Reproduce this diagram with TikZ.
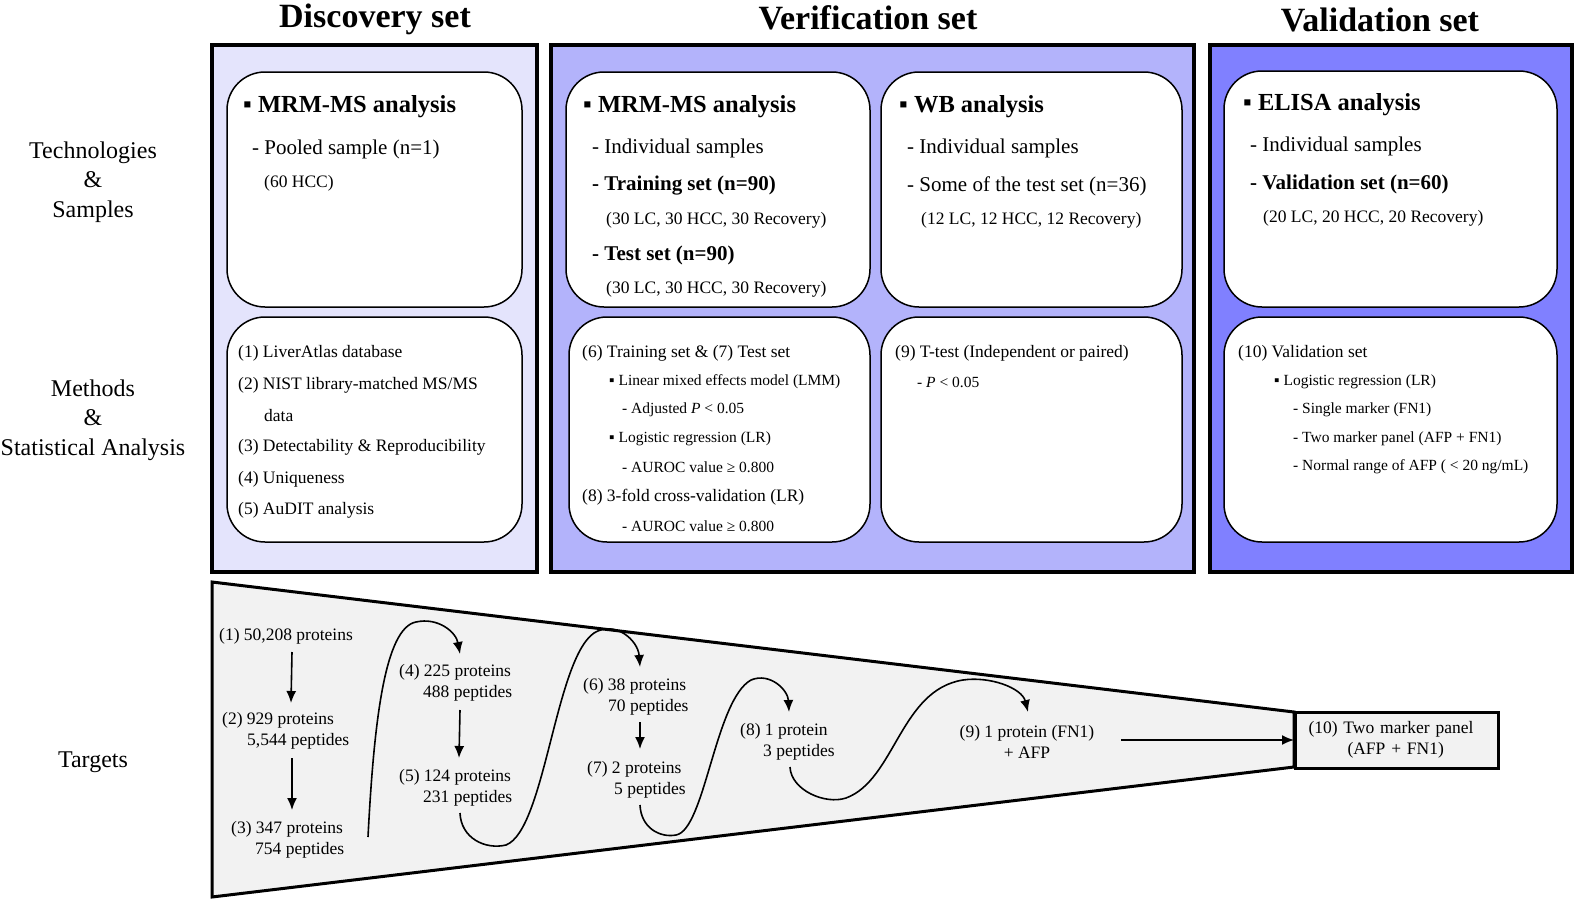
\documentclass[tikz,border=0pt]{standalone}
\usepackage{fontspec}
\setmainfont{Liberation Serif}
\usetikzlibrary{arrows.meta}
\definecolor{discfill}{HTML}{E4E4FC}
\definecolor{verfill}{HTML}{B3B3FB}
\definecolor{valfill}{HTML}{8080FF}
\definecolor{funfill}{HTML}{F2F2F2}
\tikzset{
 outerbox/.style={draw=black, line width=4pt},
 innerbox/.style={draw=black, fill=white, line width=1.5pt, rounded corners=38pt},
 ttl/.style={inner sep=0pt, font=\fontsize{34}{40}\selectfont\bfseries},
 sidelbl/.style={inner sep=0pt, align=center, font=\fontsize{24}{29.5}\selectfont},
 txhead/.style={anchor=west, inner sep=0pt, yshift=-2pt, font=\fontsize{24.5}{28}\selectfont\bfseries},
 txmid/.style={anchor=west, inner sep=0pt, yshift=-2pt, font=\fontsize{21}{25}\selectfont},
 txmidb/.style={anchor=west, inner sep=0pt, yshift=-2pt, font=\fontsize{21}{25}\selectfont\bfseries},
 txsml/.style={anchor=west, inner sep=0pt, yshift=-2pt, font=\fontsize{17.5}{21}\selectfont},
 txtiny/.style={anchor=west, inner sep=0pt, yshift=-2pt, font=\fontsize{15.5}{19}\selectfont},
 txfun/.style={anchor=west, inner sep=0pt, yshift=-2pt, align=left, font=\fontsize{17.5}{21}\selectfont},
 arr/.style={-{Latex[length=12pt,width=10pt]}, line width=1.6pt},
}
\begin{document}
\begin{tikzpicture}[x=1pt,y=-1pt]
\useasboundingbox (0,0) rectangle (1575,900);

% titles
\node[ttl] (t1) at (375,19) {Discovery set};
\node[ttl] (t2) at (868,18) {Verification set};
\node[ttl] (t3) at (1380,20) {Validation set};

% side labels
\node[sidelbl] (s1) at (93,182) {Technologies\\\&\\Samples};
\node[sidelbl] (s2) at (93,420) {Methods\\\&\\Statistical Analysis};
\node[sidelbl] (s3) at (93,762) {Targets};

% outer panels
\draw[outerbox, fill=discfill] (212,45) rectangle (537,572);
\draw[outerbox, fill=verfill] (551,45) rectangle (1194,572);
\draw[outerbox, fill=valfill] (1210,45) rectangle (1572,572);

% inner boxes
\draw[innerbox] (227,72) rectangle (522,307);
\draw[innerbox] (227,317) rectangle (522,542);
\draw[innerbox] (566,72) rectangle (870,307);
\draw[innerbox] (881,72) rectangle (1182,307);
\draw[innerbox] (569,317) rectangle (870,542);
\draw[innerbox] (881,317) rectangle (1182,542);
\draw[innerbox] (1224,71) rectangle (1557,307);
\draw[innerbox] (1224,317) rectangle (1557,542);

% discovery texts
\node[txhead] (d1) at (243,105) {▪ MRM-MS analysis};
\node[txmid] (d2) at (252,147) {- Pooled sample (n=1)};
\node[txsml] (d3) at (264,181) {(60 HCC)};
\node[txsml] (d4) at (238,351) {(1) LiverAtlas database};
\node[txsml] (d5) at (238,383) {(2) NIST library-matched MS/MS};
\node[txsml] (d6) at (264,414) {data};
\node[txsml] (d7) at (238,445) {(3) Detectability \& Reproducibility};
\node[txsml] (d8) at (238,477) {(4) Uniqueness};
\node[txsml] (d9) at (238,508) {(5) AuDIT analysis};

% verification texts
\node[txhead] (v1) at (583,105) {▪ MRM-MS analysis};
\node[txmid] (v2) at (592,146) {- Individual samples};
\node[txmidb] (v3) at (592,184) {- Training set (n=90)};
\node[txsml] (v4) at (606,218) {(30 LC, 30 HCC, 30 Recovery)};
\node[txmidb] (v5) at (592,253) {- Test set (n=90)};
\node[txsml] (v6) at (606,287) {(30 LC, 30 HCC, 30 Recovery)};
\node[txhead] (w1) at (899,105) {▪ WB analysis};
\node[txmid] (w2) at (907,146) {- Individual samples};
\node[txmid] (w3) at (907,184) {- Some of the test set (n=36)};
\node[txsml] (w4) at (921,218) {(12 LC, 12 HCC, 12 Recovery)};
\node[txsml] (v7) at (582,351) {(6) Training set \& (7) Test set};
\node[txtiny] (v8) at (609,380) {▪ Linear mixed effects model (LMM)};
\node[txtiny] (v9) at (622,408) {- Adjusted \textit{P} < 0.05};
\node[txtiny] (v10) at (609,437) {▪ Logistic regression (LR)};
\node[txtiny] (v11) at (622,465) {- AUROC value ≥ 0.800};
\node[txsml] (v12) at (582,495) {(8) 3-fold cross-validation (LR)};
\node[txtiny] (v13) at (622,524) {- AUROC value ≥ 0.800};
\node[txsml] (w5) at (895,351) {(9) T-test (Independent or paired)};
\node[txtiny] (w6) at (917,380) {- \textit{P} < 0.05};

% validation texts
\node[txhead] (e1) at (1243,103) {▪ ELISA analysis};
\node[txmid] (e2) at (1250,144) {- Individual samples};
\node[txmidb] (e3) at (1250,182) {- Validation set (n=60)};
\node[txsml] (e4) at (1263,216) {(20 LC, 20 HCC, 20 Recovery)};
\node[txsml] (e5) at (1238,351) {(10) Validation set};
\node[txtiny] (e6) at (1274,380) {▪ Logistic regression (LR)};
\node[txtiny] (e7) at (1293,408) {- Single marker (FN1)};
\node[txtiny] (e8) at (1293,437) {- Two marker panel (AFP + FN1)};
\node[txtiny] (e9) at (1293,465) {- Normal range of AFP ( < 20 ng/mL)};

% funnel
\draw[line width=3pt, fill=funfill, line join=miter] (212,582) -- (1294,712) -- (1294,767) -- (212,897) -- cycle;
\node[draw, line width=3pt, fill=funfill, minimum width=203pt, minimum height=56pt,
      text width=177pt, inner xsep=13pt, inner ysep=0pt, align=left, anchor=west,
      font=\fontsize{17.5}{21}\selectfont] (b10) at (1294,740)
      {(10) Two marker panel\\\hspace*{39pt}(AFP + FN1)};

\node[txfun] (n1) at (219,634) {(1) 50,208 proteins};
\node[txfun] (n2) at (222,729) {(2) 929 proteins\\\hspace*{25pt}5,544 peptides};
\node[txfun] (n3) at (231,838) {(3) 347 proteins\\\hspace*{24pt}754 peptides};
\node[txfun] (n4) at (399,681) {(4) 225 proteins\\\hspace*{24pt}488 peptides};
\node[txfun] (n5) at (399,786) {(5) 124 proteins\\\hspace*{24pt}231 peptides};
\node[txfun] (n6) at (583,695) {(6) 38 proteins\\\hspace*{25pt}70 peptides};
\node[txfun] (n7) at (587,778) {(7) 2 proteins\\\hspace*{27pt}5 peptides};
\node[txfun] (n8) at (740,740) {(8) 1 protein\\\hspace*{23pt}3 peptides};
\node[inner sep=0pt, yshift=-2pt, align=center, font=\fontsize{17.5}{21}\selectfont] (n9) at (1027,740) {(9) 1 protein (FN1)\\+ AFP};

% connector end points
\coordinate (a1s) at (292,652); \coordinate (a1e) at (291,703);
\coordinate (a2s) at (292,758); \coordinate (a2e) at (292,810);
\coordinate (a3s) at (460,710); \coordinate (a3e) at (459,758);
\coordinate (a4s) at (640,722); \coordinate (a4e) at (640,749);
\coordinate (a9s) at (1121,740);
\coordinate (c34s) at (368,837); \coordinate (c34e) at (460,654);
\coordinate (c56s) at (460,813); \coordinate (c56e) at (640,667);
\coordinate (c78s) at (640,805); \coordinate (c78e) at (789,712);
\coordinate (c89s) at (790,767); \coordinate (c89e) at (1028,712);

\draw[arr] (a1s) -- (a1e);
\draw[arr] (a2s) -- (a2e);
\draw[arr] (a3s) -- (a3e);
\draw[arr] (a4s) -- (a4e);
\draw[arr] (a9s) -- (b10.west);
\draw[arr] (c34s) .. controls (374,720) and (385,628) .. (416,622)
               .. controls (438,617) and (456,632) .. (c34e);
\draw[arr] (c56s) .. controls (461,838) and (485,850) .. (506,845)
               .. controls (545,830) and (555,660) .. (594,633)
               .. controls (615,620) and (638,640) .. (c56e);
\draw[arr] (c78s) .. controls (641,828) and (660,838) .. (676,835)
               .. controls (705,830) and (715,700) .. (751,680)
               .. controls (770,672) and (788,690) .. (c78e);
\draw[arr] (c89s) .. controls (791,790) and (825,805) .. (846,798)
               .. controls (895,780) and (900,690) .. (963,680)
               .. controls (990,676) and (1022,688) .. (c89e);
\end{tikzpicture}
\end{document}
